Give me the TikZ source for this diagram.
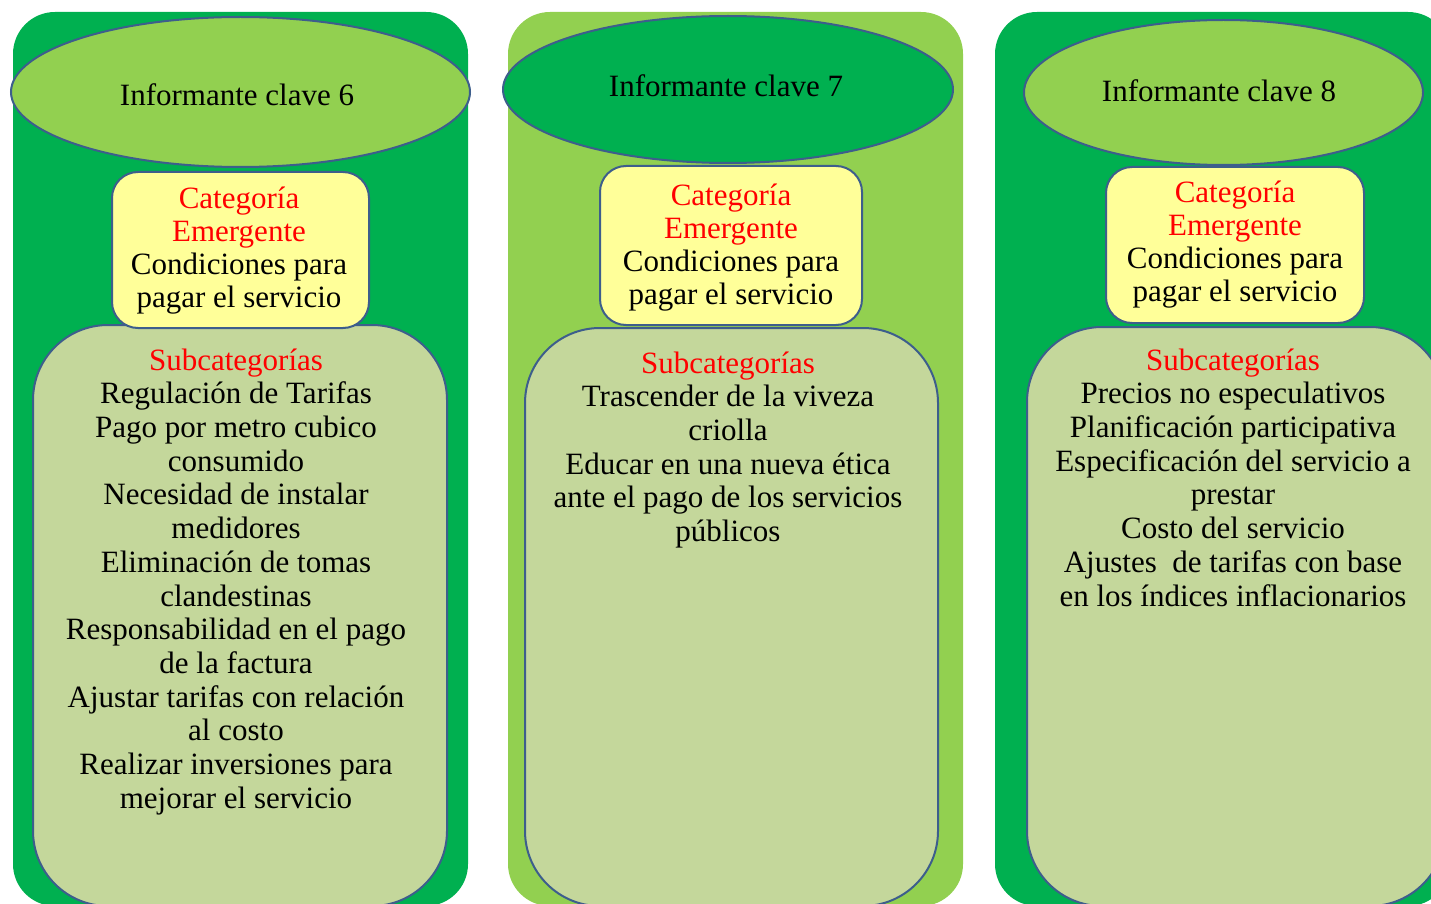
\documentclass[tikz,border=0pt]{standalone}
\usepackage{fontspec}
\setmainfont{Liberation Serif}
\usetikzlibrary{shapes.geometric}
\definecolor{dkgreen}{HTML}{00B050}
\definecolor{ltgreen}{HTML}{92D050}
\definecolor{paleyel}{HTML}{FFFF99}
\definecolor{sage}{HTML}{C4D79B}
\definecolor{edgeblue}{HTML}{3D5E8C}
\definecolor{redtxt}{HTML}{FF0000}
\begin{document}
\begin{tikzpicture}[x=1pt,y=-1pt,
  outerbox/.style={rectangle, draw=none, rounded corners=42pt, minimum width=455pt, minimum height=894pt, inner sep=0pt},
  subbox/.style={rectangle, draw=edgeblue, line width=2pt, fill=sage, rounded corners=75pt, inner sep=0pt},
  catbox/.style={rectangle, draw=edgeblue, line width=2pt, fill=paleyel, rounded corners=26pt, inner sep=0pt},
  infell/.style={ellipse, draw=edgeblue, line width=2pt, inner sep=0pt},
  inftext/.style={anchor=base, inner sep=0pt, font=\fontsize{31}{34}\selectfont},
  cattext/.style={anchor=north, align=center, inner sep=0pt, font=\fontsize{31}{33}\selectfont},
  subtext/.style={anchor=north, align=center, inner sep=0pt, font=\fontsize{31}{33.7}\selectfont}]
\useasboundingbox (0,0) rectangle (1431,904);
\begin{scope}
\clip (0,0) rectangle (1431,904);
% outer columns
\node[outerbox, fill=dkgreen] (o1) at (240.5,459) {};
\node[outerbox, fill=ltgreen] (o2) at (735.5,459) {};
\node[outerbox, fill=dkgreen] (o3) at (1222.5,459) {};
% subcategory boxes
\node[subbox, minimum width=414pt, minimum height=581pt] (s1) at (240,615.5) {};
\node[subbox, minimum width=413pt, minimum height=578pt] (s2) at (731.5,617) {};
\node[subbox, minimum width=418pt, minimum height=579pt] (s3) at (1236,616.5) {};
% category boxes
\node[catbox, minimum width=257pt, minimum height=156pt] (c1) at (240.5,250) {};
\node[catbox, minimum width=262pt, minimum height=159pt] (c2) at (731,245.5) {};
\node[catbox, minimum width=258pt, minimum height=156pt] (c3) at (1235,245) {};
% ellipses
\node[infell, fill=ltgreen, minimum width=459pt, minimum height=150pt] (e1) at (240.5,92) {};
\node[infell, fill=dkgreen, minimum width=450pt, minimum height=147pt] (e2) at (728,89.5) {};
\node[infell, fill=ltgreen, minimum width=399pt, minimum height=145pt] (e3) at (1223.5,92.5) {};
\end{scope}
% ellipse texts
\node[inftext] (t1) at (237,106) {Informante clave 6};
\node[inftext] (t2) at (726,97) {Informante clave 7};
\node[inftext] (t3) at (1219,102) {Informante clave 8};
% category texts (first baseline = y + 23.1)
\node[cattext] (ct1) at (239,184.9) {\strut\textcolor{redtxt}{Categoría}\\\textcolor{redtxt}{Emergente}\\Condiciones para\\pagar el servicio};
\node[cattext] (ct2) at (731,181.9) {\strut\textcolor{redtxt}{Categoría}\\\textcolor{redtxt}{Emergente}\\Condiciones para\\pagar el servicio};
\node[cattext] (ct3) at (1235,178.9) {\strut\textcolor{redtxt}{Categoría}\\\textcolor{redtxt}{Emergente}\\Condiciones para\\pagar el servicio};
% subcategory texts (first baseline = y + 23.6)
\node[subtext] (st1) at (236,346.4) {\strut\textcolor{redtxt}{Subcategorías}\\Regulación de Tarifas\\Pago por metro cubico\\consumido\\Necesidad de instalar\\medidores\\Eliminación de tomas\\clandestinas\\Responsabilidad en el pago\\de la factura\\Ajustar tarifas con relación\\al costo\\Realizar inversiones para\\mejorar el servicio};
\node[subtext] (st2) at (728,349.4) {\strut\textcolor{redtxt}{Subcategorías}\\Trascender de la viveza\\criolla\\Educar en una nueva ética\\ante el pago de los servicios\\públicos};
\node[subtext] (st3) at (1233,346.4) {\strut\textcolor{redtxt}{Subcategorías}\\Precios no especulativos\\Planificación participativa\\Especificación del servicio a\\prestar\\Costo del servicio\\Ajustes\ \ de tarifas con base\\en los índices inflacionarios};
\end{tikzpicture}
\end{document}
